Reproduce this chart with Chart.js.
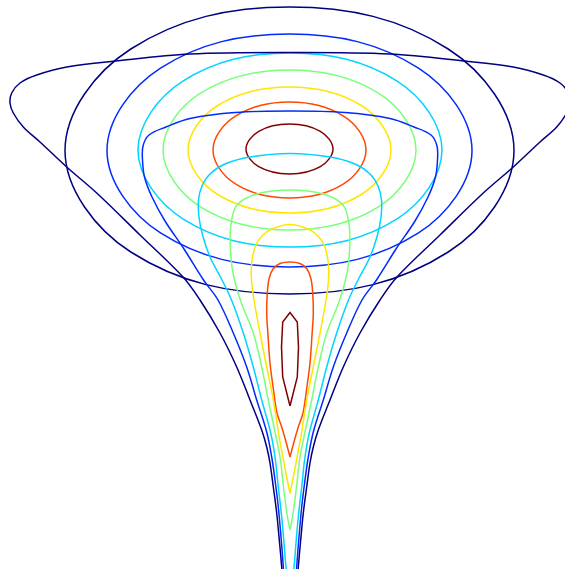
<!DOCTYPE html>
<html>
<head>
<meta charset="utf-8">
<title>Contours</title>
<script src="https://cdn.jsdelivr.net/npm/chart.js@4/dist/chart.umd.min.js"></script>
<style>
  html, body { margin: 0; padding: 0; background: #fff; }
  #wrap { width: 565px; height: 569px; }
</style>
</head>
<body>
<div id="wrap"><canvas id="contourChart" width="565" height="569"></canvas></div>
<script>
// contour levels, low to high (jet colours)
const levelColors = ["#000080", "#002aff", "#00d4ff", "#7bff7b", "#ffe600", "#ff4800", "#800000"];

// oval contours (closed), [x, y]
const ringNavy = [[514,150.5],[448.2,252],[289.5,294],[130.8,252],[65,150.5],[130.8,49],[289.5,7],[448.2,49]];
const ringBlue = [[472,150.5],[418.5,232.9],[289.5,267],[160.5,232.9],[107,150.5],[160.5,68.1],[289.5,34],[418.5,68.1]];
const ringCyan = [[442,150],[397.5,218.6],[290,247],[182.5,218.6],[138,150],[182.5,81.4],[290,53],[397.5,81.4]];
const ringGreen = [[416,150],[378.9,206.6],[289.5,230],[200.1,206.6],[163,150],[200.1,93.4],[289.5,70],[378.9,93.4]];
const ringYellow = [[391,150],[361.3,194.5],[289.5,213],[217.7,194.5],[188,150],[217.7,105.5],[289.5,87],[361.3,105.5]];
const ringRed = [[366,150],[343.6,183.9],[289.5,198],[235.4,183.9],[213,150],[235.4,116.1],[289.5,102],[343.6,116.1]];
const ringDarkRed = [[333,149],[320.3,166.7],[289.5,174],[258.7,166.7],[246,149],[258.7,131.3],[289.5,124],[320.3,131.3]];

// funnel contours (open at the bottom / pointed tips)
const funnelNavy = [
  [282.5,580],[281.7,567],[279.3,540],[276.7,513],[273.3,487],[270,463],[266.7,447],[261.7,430],[250,400],[236.7,367],
  [220,333],[200,300],[183,277],[140,235],[96.7,193],[66.7,167],[40,142],[23.3,127],[13.3,113],[10,103],[11.7,93],
  [20,83],[36.7,75],[66.7,67],[115,61],[190,54],[290,52.5],
  [390,54],[465,61],[513.3,67],[543.3,75],[560,83],[568.3,93],[570,103],[566.7,113],[556.7,127],[540,142],
  [513.3,167],[483.3,193],[440,235],[397,277],[380,300],[360,333],[343.3,367],[330,400],[318.3,430],[313.3,447],
  [310,463],[306.7,487],[303.3,513],[300.7,540],[298.3,567],[297.5,580]
];
const funnelBlue = [
  [283.8,580],[283.3,567],[281,537],[278.3,507],[275,480],[271.7,457],[266.7,432],[256.7,400],[246.7,367],[233.3,333],
  [218,300],[203.5,280],[184,249],[165,221],[152,197],[144.5,177],[142.5,160],[143,146],[149,135],[166,127],
  [190,118.5],[235,112.5],[290,111],[345,112.5],[390,118.5],[414,127],[431,135],[437,146],[437.5,160],[435.5,177],
  [428,197],[415,221],[396,249],[376.5,280],[362,300],[346.7,333],[333.3,367],[323.3,400],[313.3,432],[308.3,457],
  [305,480],[301.7,507],[299,537],[296.7,567],[296.2,580]
];
const funnelCyan = [
  [288,580],[286,567],[284,543],[281.7,517],[278.3,487],[275,457],[270.5,432],[261.7,400],[253.3,367],[243.3,333],
  [231.5,300],[221,278],[210,257],[202.5,235],[199,217],[198.5,200],[202,186],[210,174],[225,164],[250,157],[290,153.5],
  [330,157],[355,164],[370,174],[378,186],[381.5,200],[381,217],[377.5,235],[370,257],[359,278],[348.5,300],
  [336.7,333],[326.7,367],[318.3,400],[309.5,432],[305,457],[301.7,487],[298.3,517],[296,543],[294,567],[292,580]
];
const funnelGreen = [
  [290,530],[287,514],[283.5,487],[280,457],[275,432],[268.3,400],[261.7,367],[253.3,333],[241,302],[233,273],
  [230.3,247],[231,224],[237,205],[256.7,194],[290,190],[323.3,194],[343,205],[349,224],[349.7,247],[347,273],
  [339,302],[326.7,333],[318.3,367],[311.7,400],[305,432],[300,457],[296.5,487],[293,514],[290,530]
];
const funnelYellow = [
  [290,493.5],[286.7,477],[282.5,455],[278.5,433],[273.3,400],[266.7,367],[260,333],[254,300],[251.5,280],[251.5,265],
  [255,247],[262,236],[272,229],[290,224.5],[308,229],[318,236],[325,247],[328.5,265],[328.5,280],[326,300],
  [320,333],[313.3,367],[306.7,400],[301.5,433],[297.5,455],[293.3,477],[290,493.5]
];
const funnelRed = [
  [290,457],[285.5,440],[281.7,427],[277,413],[273.5,390],[270,363],[268,335],[266.7,313],[267.3,293],[269,279],
  [273,269],[280,263.5],[290,262],[300,263.5],[307,269],[311,279],[312.7,293],[313.3,313],[312,335],[310,363],
  [306.5,390],[303,413],[298.3,427],[294.5,440],[290,457]
];
const funnelDarkRed = [[290,406],[282.7,377],[281.5,347],[282.7,322],[290,312.5],[297.3,322],[298.5,347],[297.3,377],[290,406]];

const rings = [ringNavy, ringBlue, ringCyan, ringGreen, ringYellow, ringRed, ringDarkRed];
const funnels = [funnelNavy, funnelBlue, funnelCyan, funnelGreen, funnelYellow, funnelRed, funnelDarkRed];

function toPoints(arr) {
  return arr.map(p => ({ x: p[0], y: p[1] }));
}

const datasets = [];
funnels.forEach((f, i) => {
  datasets.push({
    data: toPoints(f),
    borderColor: levelColors[i],
    tension: i === 6 ? 0 : 0.35,
    closed: false
  });
});
rings.forEach((r, i) => {
  datasets.push({
    data: toPoints(r),
    borderColor: levelColors[i],
    tension: 0.375,
    closed: true
  });
});

// make the oval contours proper closed loops
const closeRings = {
  id: "closeRings",
  afterDatasetsUpdate(chart) {
    chart.data.datasets.forEach((ds, i) => {
      if (!ds.closed) return;
      const line = chart.getDatasetMeta(i).dataset;
      line._loop = true;
      line._fullLoop = true;
      line.points = line.points;
      line.updateControlPoints(chart.chartArea, "x");
    });
  }
};

const ctx = document.getElementById("contourChart").getContext("2d");
new Chart(ctx, {
  type: "line",
  data: { datasets: datasets },
  options: {
    responsive: false,
    animation: false,
    layout: { padding: 0 },
    elements: {
      point: { radius: 0, hoverRadius: 0 },
      line: { borderWidth: 1.5, fill: false }
    },
    scales: {
      x: { type: "linear", min: 0, max: 565, display: false },
      y: { type: "linear", min: 0, max: 569, reverse: true, display: false }
    },
    plugins: {
      legend: { display: false },
      tooltip: { enabled: false }
    }
  },
  plugins: [closeRings]
});
</script>
</body>
</html>
